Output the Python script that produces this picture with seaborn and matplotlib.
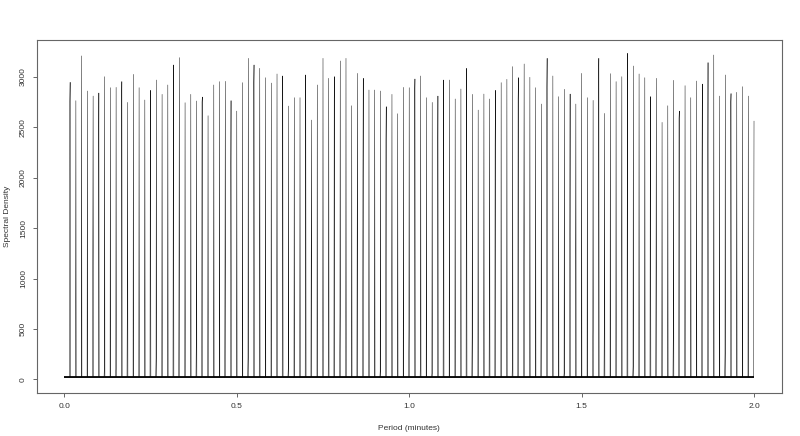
import numpy as np
import matplotlib
matplotlib.use("Agg")
import matplotlib.pyplot as plt
import seaborn as sns

# peak heights, one per second (1/60 min) from 1/60 to 2.0 minutes
peak_heights = [
    2946, 2764, 3208, 2860, 2810, 2840, 3002, 2893, 2896, 2953,
    2747, 3025, 2893, 2771, 2867, 2969, 2827, 2920, 3118, 3191,
    2744, 2827, 2761, 2800, 2615, 2920, 2953, 2956, 2764, 2661,
    2943, 3184, 3118, 3085, 2992, 2939, 3029, 3009, 2711, 2794,
    2794, 3019, 2572, 2920, 3184, 2986, 3002, 3158, 3184, 2714,
    3035, 2986, 2870, 2870, 2860, 2704, 2827, 2635, 2896, 2893,
    2979, 3009, 2794, 2747, 2810, 2969, 2969, 2781, 2880, 3085,
    2827, 2671, 2830, 2781, 2867, 2943, 2976, 3102, 2992, 3128,
    2996, 2893, 2731, 3184, 3009, 2804, 2877, 2830, 2731, 3035,
    2794, 2767, 3184, 2638, 3032, 2953, 3002, 3234, 3108, 3029,
    2992, 2804, 2986, 2549, 2714, 2966, 2661, 2913, 2794, 2959,
    2929, 3141, 3217, 2810, 3019, 2834, 2847, 2903, 2810, 2562,
]

# neighbouring-bin heights (peak number -> height)
side_peaks = [1, 2, 5, 6, 7, 9, 10, 11, 14, 15, 16, 18, 19, 20, 21, 23, 24, 25,
              28, 29, 30, 32, 33, 34, 37, 38, 39, 42, 43, 46, 47, 48, 51, 52, 53,
              55, 56, 57, 60, 61, 62, 64, 65, 66, 69, 70, 71, 74, 75, 78, 79, 80,
              83, 84, 85, 87, 88, 89, 92, 93, 94, 97, 98, 99, 101, 102, 103, 106,
              107, 108, 111, 112, 113, 115, 116, 117, 120]
side_heights = [2760, 510, 1562, 1862, 112, 102, 2665, 841, 500, 2681, 208, 92,
                2390, 1241, 50, 387, 2750, 328, 1204, 2108, 90, 218, 2929, 1314,
                857, 2711, 106, 1976, 1420, 553, 2787, 652, 1529, 2009, 139, 79,
                2380, 950, 487, 2830, 222, 60, 2075, 2108, 288, 3019, 420, 1016,
                2324, 156, 2781, 1407, 685, 2903, 116, 60, 1777, 1612, 487, 2920,
                613, 1407, 2274, 129, 89, 2340, 1082, 470, 2589, 295, 2092, 2268,
                73, 255, 2741, 447, 884]

baseline = 20
bins_per_peak = 20

period = np.linspace(0, 2, len(peak_heights) * bins_per_peak + 1)
density = np.full(period.shape, float(baseline))
for k, h in enumerate(peak_heights, start=1):
    density[k * bins_per_peak] = h
for k, h in zip(side_peaks, side_heights):
    density[k * bins_per_peak - 1] = h

sns.set_style("white")
plt.rcParams["font.family"] = ["Liberation Sans", "DejaVu Sans"]

fig = plt.figure(figsize=(8, 4.36), dpi=100)
ax = fig.add_axes([0.046, 0.0986, 0.931, 0.8096])

sns.lineplot(x=period, y=density, color="black", linewidth=0.33,
             estimator=None, sort=False, ax=ax)
ax.hlines(baseline, period[0], period[-1], color="black", linewidth=1.3)

ax.set_xlim(-0.08, 2.08)
ax.set_ylim(-135, 3365)
ax.set_xticks([0.0, 0.5, 1.0, 1.5, 2.0])
ax.set_xticklabels(["0.0", "0.5", "1.0", "1.5", "2.0"])
ax.set_yticks(range(0, 3001, 500))

for s in ax.spines.values():
    s.set_color("#666666")
    s.set_linewidth(0.8)
ax.tick_params(axis="both", which="major", bottom=True, left=True,
               direction="out", length=3, width=0.7,
               color="#666666", labelsize=6, labelcolor="#333333", pad=4)
ax.tick_params(axis="y", labelrotation=90)
for lab in ax.get_yticklabels():
    lab.set_va("center")

ax.set_xlabel("Period (minutes)", fontsize=6, color="#333333")
ax.set_ylabel("Spectral Density", fontsize=6, color="#333333")
ax.xaxis.set_label_coords(0.5, -0.09)
ax.yaxis.set_label_coords(-0.034, 0.5)

fig.savefig("out.png", dpi=100)
